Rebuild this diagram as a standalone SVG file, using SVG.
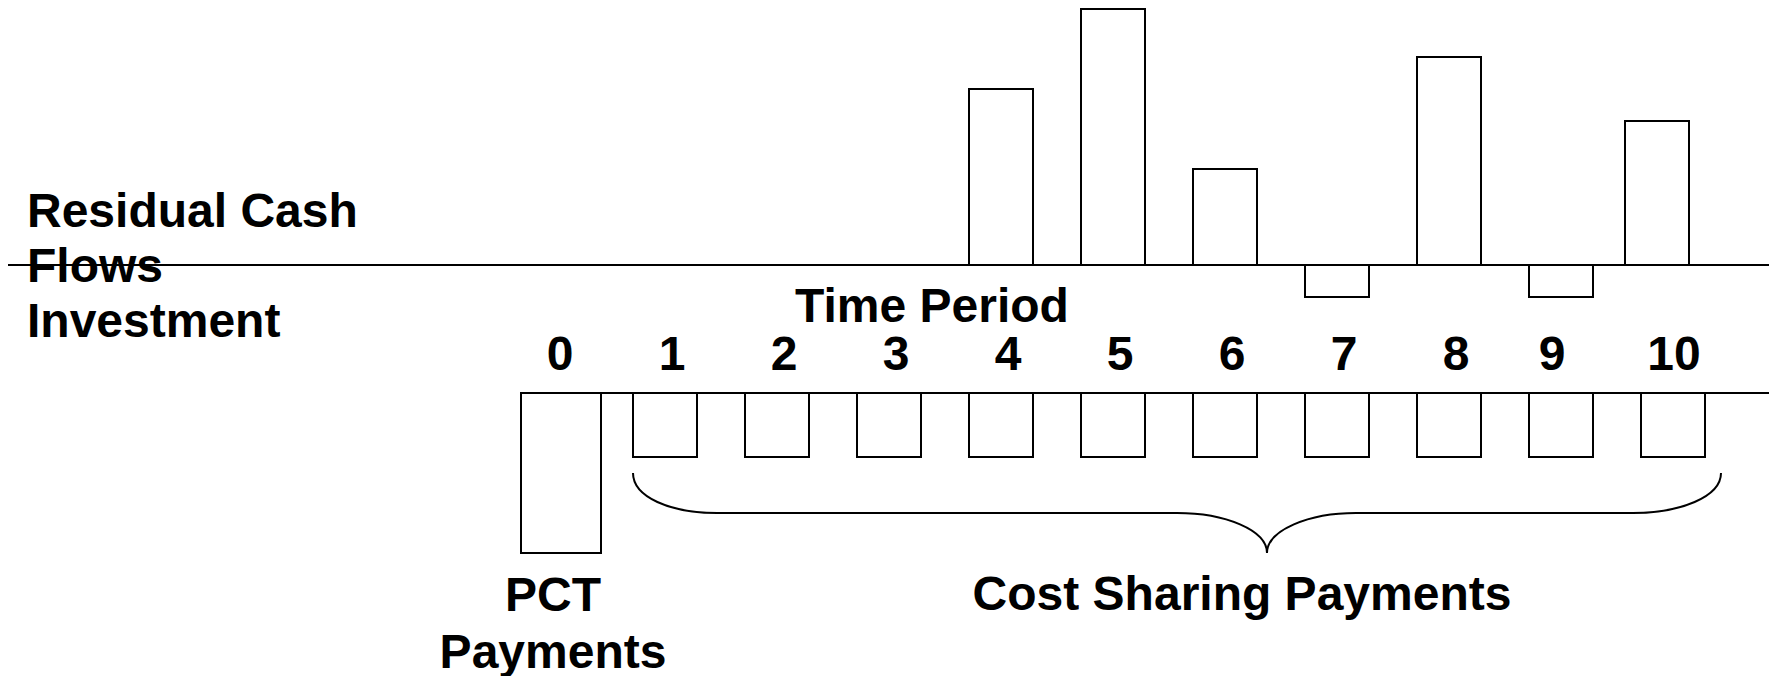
<svg xmlns="http://www.w3.org/2000/svg" width="1769" height="676" viewBox="0 0 1769 676">
<style>
  .bx { fill: #ffffff; stroke: #000000; stroke-width: 2; }
  .ln { fill: none; stroke: #000000; stroke-width: 2; }
  .t { font-family: "Liberation Sans", Arial, sans-serif; font-weight: bold; font-size: 48px; fill: #000000; }
  .c { text-anchor: middle; }
</style>
<rect x="0" y="0" width="1769" height="676" fill="#ffffff"/>

<g id="connectors">
  <line id="axis-residual" class="ln" x1="8" y1="265" x2="1769" y2="265"/>
  <line id="axis-investment" class="ln" x1="521" y1="393" x2="1769" y2="393"/>
  <path id="brace" class="ln" d="M633,473 C633,497 670,513 717,513 L1177,513 C1225,513 1267,530 1267,553 C1267,530 1309,513 1356,513 L1633,513 C1680,513 1721,497 1721,473"/>
</g>

<g id="labels">
  <text class="t" x="27" y="227">Residual Cash</text>
  <text class="t" x="27" y="282">Flows</text>
  <text class="t" x="27" y="337">Investment</text>
  <text class="t c" x="932" y="322">Time Period</text>
</g>

<g id="period-numbers">
  <text class="t c" x="560" y="370">0</text>
  <text class="t c" x="672" y="370">1</text>
  <text class="t c" x="784" y="370">2</text>
  <text class="t c" x="896" y="370">3</text>
  <text class="t c" x="1008" y="370">4</text>
  <text class="t c" x="1120" y="370">5</text>
  <text class="t c" x="1232" y="370">6</text>
  <text class="t c" x="1344" y="370">7</text>
  <text class="t c" x="1456" y="370">8</text>
  <text class="t c" x="1552" y="370">9</text>
  <text class="t c" x="1674" y="370">10</text>
</g>

<g id="residual-bars">
  <rect id="bar4" class="bx" x="969" y="89" width="64" height="176"/>
  <rect id="bar5" class="bx" x="1081" y="9" width="64" height="256"/>
  <rect id="bar6" class="bx" x="1193" y="169" width="64" height="96"/>
  <rect id="bar7" class="bx" x="1305" y="265" width="64" height="32"/>
  <rect id="bar8" class="bx" x="1417" y="57" width="64" height="208"/>
  <rect id="bar9" class="bx" x="1529" y="265" width="64" height="32"/>
  <rect id="bar10" class="bx" x="1625" y="121" width="64" height="144"/>
</g>

<g id="pct-payment">
  <rect class="bx" x="521" y="393" width="80" height="160"/>
  <text class="t c" x="553" y="611">PCT</text>
  <text class="t c" x="553" y="668">Payments</text>
</g>

<g id="cost-sharing-payments">
  <rect class="bx" x="633" y="393" width="64" height="64"/>
  <rect class="bx" x="745" y="393" width="64" height="64"/>
  <rect class="bx" x="857" y="393" width="64" height="64"/>
  <rect class="bx" x="969" y="393" width="64" height="64"/>
  <rect class="bx" x="1081" y="393" width="64" height="64"/>
  <rect class="bx" x="1193" y="393" width="64" height="64"/>
  <rect class="bx" x="1305" y="393" width="64" height="64"/>
  <rect class="bx" x="1417" y="393" width="64" height="64"/>
  <rect class="bx" x="1529" y="393" width="64" height="64"/>
  <rect class="bx" x="1641" y="393" width="64" height="64"/>
  <text class="t c" x="1242" y="610">Cost Sharing Payments</text>
</g>
</svg>
